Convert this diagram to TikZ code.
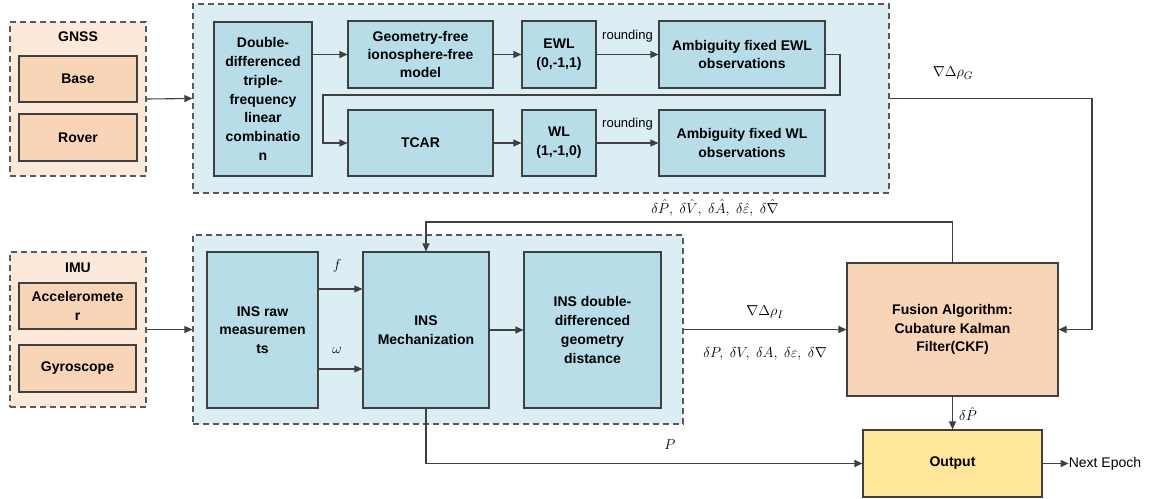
\documentclass[tikz,border=0pt]{standalone}
\usepackage{fontspec}
\setmainfont{Liberation Sans}
\usetikzlibrary{arrows.meta,calc}
\definecolor{regblue}{HTML}{DAEEF3}
\definecolor{boxblue}{HTML}{B7DDE8}
\definecolor{regpeach}{HTML}{FDE9D9}
\definecolor{boxpeach}{HTML}{F9D5B8}
\definecolor{outyellow}{HTML}{FFE699}
\definecolor{edge}{HTML}{404040}
\definecolor{dashc}{HTML}{595959}
\tikzset{
  x=1pt,y=-1pt,
  region/.style={draw=dashc,line width=1.1pt,dash pattern=on 6pt off 4pt,inner sep=0pt},
  bbox/.style={draw=edge,line width=1.1pt,fill=boxblue,inner sep=1pt,align=center,
    font=\fontsize{14}{18.8}\selectfont\bfseries},
  pbox/.style={bbox,fill=boxpeach},
  title/.style={font=\fontsize{14}{18}\selectfont\bfseries,inner sep=0pt},
  lab/.style={font=\fontsize{13}{15}\selectfont,inner sep=0pt},
  mlab/.style={font=\fontsize{15}{17}\selectfont,inner sep=0pt},
  arr/.style={draw=edge,line width=1.1pt,-{Triangle[length=8pt,width=7pt]}},
  ln/.style={draw=edge,line width=1.1pt},
}
\begin{document}
\begin{tikzpicture}
\useasboundingbox (0,0) rectangle (1151,498);
% regions
\node[region,fill=regpeach,minimum width=136pt,minimum height=154pt] (gnssbox) at (78,99) {};
\node[region,fill=regblue,minimum width=696pt,minimum height=189pt] (topblue) at (541,98.5) {};
\node[region,fill=regpeach,minimum width=136pt,minimum height=155pt] (imubox) at (78,329.5) {};
\node[region,fill=regblue,minimum width=490pt,minimum height=189pt] (botblue) at (438,329.5) {};
% GNSS
\node[title] (gnsst) at (78,37) {GNSS};
\node[pbox,minimum width=118pt,minimum height=46pt] (base) at (78,79) {Base};
\node[pbox,minimum width=118pt,minimum height=47pt] (rover) at (78,137.5) {Rover};
% top row
\node[bbox,minimum width=98pt,minimum height=154pt] (dd) at (263,99) {Double-\\differenced\\triple-\\frequency\\linear\\combinatio\\n};
\node[bbox,minimum width=145pt,minimum height=67pt] (geo) at (420.5,54.5) {Geometry-free\\[-1pt]ionosphere-free\\[-1pt]model};
\node[bbox,minimum width=74pt,minimum height=67pt] (ewl) at (559,54.5) {EWL\\(0,-1,1)};
\node[bbox,minimum width=166pt,minimum height=67pt] (aewl) at (742,54.5) {Ambiguity fixed EWL\\observations};
\node[bbox,minimum width=145pt,minimum height=66pt] (tcar) at (420.5,143) {TCAR};
\node[bbox,minimum width=74pt,minimum height=66pt] (wl) at (559,143) {WL\\(1,-1,0)};
\node[bbox,minimum width=166pt,minimum height=66pt] (awl) at (742,143) {Ambiguity fixed WL\\observations};
% IMU
\node[title] (imut) at (78,268) {IMU};
\node[pbox,minimum width=117pt,minimum height=46pt] (acc) at (77.5,306) {Acceleromete\\r};
\node[pbox,minimum width=117pt,minimum height=47pt] (gyro) at (77.5,368.5) {Gyroscope};
% bottom row
\node[bbox,minimum width=111pt,minimum height=156pt] (raw) at (262.5,330) {INS raw\\measuremen\\ts};
\node[bbox,minimum width=126pt,minimum height=156pt] (mech) at (426,330) {INS\\Mechanization};
\node[bbox,minimum width=137pt,minimum height=156pt] (insdd) at (592.5,330) {INS double-\\differenced\\geometry\\distance};
\node[pbox,minimum width=211pt,minimum height=133pt] (fusion) at (952.5,329.5) {Fusion Algorithm:\\Cubature Kalman\\Filter(CKF)};
\node[bbox,fill=outyellow,minimum width=179pt,minimum height=67pt] (output) at (952.5,463.5) {Output};
\node[lab,font=\fontsize{14}{16}\selectfont] (ne) at (1105,463.5) {Next Epoch};
% connectors top
\draw[arr] (gnssbox.east) -- (topblue.west);
\draw[arr] (dd.east |- geo.west) -- (geo.west);
\draw[arr] (geo.east) -- (ewl.west);
\draw[arr] (ewl.east) -- (aewl.west) node[lab,midway,above=12pt] (r1) {rounding};
\coordinate (lp1) at (840,54.5);
\coordinate (lp2) at (840,95);
\coordinate (lp3) at (323,95);
\coordinate (lp4) at (323,143);
\draw[arr] (aewl.east) -- (lp1) -- (lp2) -- (lp3) -- (lp4) -- (tcar.west);
\draw[arr] (tcar.east) -- (wl.west);
\draw[arr] (wl.east) -- (awl.west) node[lab,midway,above=12pt] (r2) {rounding};
\coordinate (gr) at (1092,329.5);
\draw[arr] (topblue.east) -| (gr) -- (fusion.east);
\node[mlab] (rhog) at (953,73) {$\nabla\Delta\rho_G$};
% connectors bottom
\draw[arr] (imubox.east) -- (botblue.west);
\draw[arr] ([yshift=41pt]raw.east) -- ([yshift=41pt]mech.west);
\draw[arr] ([yshift=-39pt]raw.east) -- ([yshift=-39pt]mech.west);
\node[mlab] (fl) at (337,266) {$f$};
\node[mlab] (wlab) at (337,350) {$\omega$};
\draw[arr] (mech.east) -- (insdd.west);
\draw[arr] (botblue.east) -- (fusion.west);
\node[mlab] (rhoi) at (765,312) {$\nabla\Delta\rho_I$};
\node[mlab] (errs) at (765,354) {$\delta P,\ \delta V,\ \delta A,\ \delta\varepsilon,\ \delta\nabla$};
\coordinate (fb) at (426,222);
\draw[arr] (fusion.north) |- (fb) -- (mech.north);
\node[mlab] (ferrs) at (715,208) {$\delta\hat{P},\ \delta\hat{V},\ \delta\hat{A},\ \delta\hat{\varepsilon},\ \delta\hat{\nabla}$};
\draw[arr] (fusion.south) -- (output.north);
\node[mlab,anchor=west] (dph) at (959,414) {$\delta\hat{P}$};
\draw[arr] (mech.south) |- (output.west);
\node[mlab] (pl) at (670,445) {$P$};
\draw[arr] (output.east) -- (ne.west);
\end{tikzpicture}
\end{document}
